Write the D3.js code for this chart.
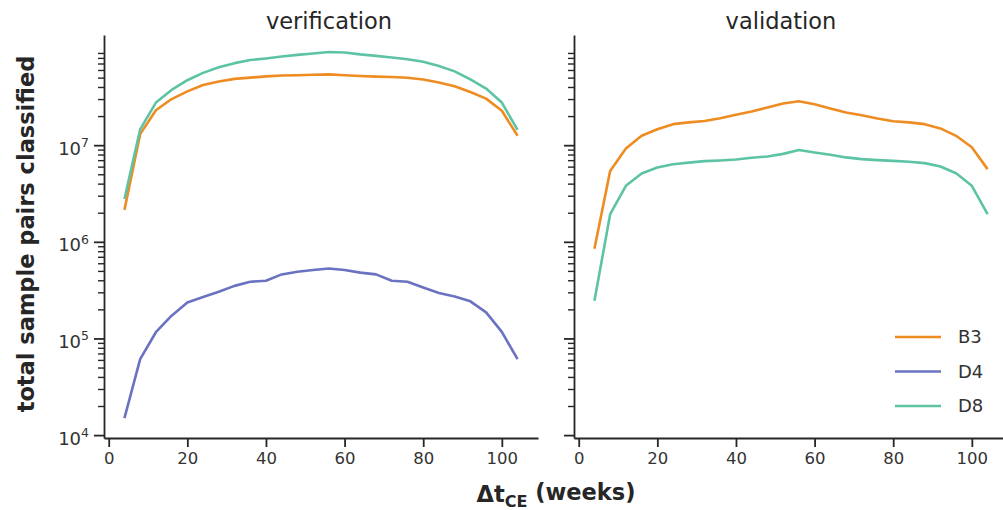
<!DOCTYPE html>
<html>
<head>
<meta charset="utf-8">
<script src="https://cdn.jsdelivr.net/npm/d3@7"></script>
<style>
body { margin: 0; background: #fff; }
text { font-family: 'DejaVu Sans', sans-serif; fill: #262626; }
</style>
</head>
<body>
<svg width="1003" height="510"></svg>
<script>
var weeks = [4, 8, 12, 16, 20, 24, 28, 32, 36, 40, 44, 48, 52, 56, 60, 64, 68, 72, 76, 80, 84, 88, 92, 96, 100, 104];

// verification panel
var verB3 = [2.14e6, 1.3e7, 2.3e7, 3.0e7, 3.6e7, 4.2e7, 4.55e7, 4.85e7, 5.0e7, 5.15e7, 5.25e7, 5.3e7, 5.35e7,
	5.4e7, 5.3e7, 5.2e7, 5.12e7, 5.08e7, 4.98e7, 4.78e7, 4.45e7, 4.07e7, 3.55e7, 3.03e7, 2.27e7, 1.25e7];
var verD4 = [1.5e4, 6.1e4, 1.16e5, 1.72e5, 2.36e5, 2.69e5, 3.04e5, 3.5e5, 3.86e5, 3.95e5, 4.6e5, 4.9e5, 5.1e5,
	5.3e5, 5.1e5, 4.8e5, 4.6e5, 3.95e5, 3.86e5, 3.37e5, 2.95e5, 2.72e5, 2.42e5, 1.86e5, 1.17e5, 6.1e4];
var verD8 = [2.77e6, 1.46e7, 2.76e7, 3.73e7, 4.7e7, 5.6e7, 6.4e7, 7.06e7, 7.6e7, 7.9e7, 8.26e7, 8.6e7, 8.9e7,
	9.2e7, 9.1e7, 8.7e7, 8.4e7, 8.07e7, 7.76e7, 7.3e7, 6.6e7, 5.8e7, 4.8e7, 3.85e7, 2.76e7, 1.44e7];

// validation panel
var valB3 = [8.5e5, 5.42e6, 9.25e6, 1.25e7, 1.46e7, 1.65e7, 1.72e7, 1.78e7, 1.9e7, 2.06e7, 2.23e7, 2.45e7, 2.7e7,
	2.85e7, 2.65e7, 2.4e7, 2.18e7, 2.04e7, 1.89e7, 1.77e7, 1.72e7, 1.65e7, 1.49e7, 1.25e7, 9.5e6, 5.65e6];
var valD8 = [2.45e5, 1.93e6, 3.8e6, 5.1e6, 5.88e6, 6.35e6, 6.6e6, 6.84e6, 6.94e6, 7.1e6, 7.4e6, 7.64e6, 8.13e6,
	8.9e6, 8.4e6, 7.95e6, 7.47e6, 7.17e6, 7.0e6, 6.88e6, 6.73e6, 6.52e6, 6.02e6, 5.13e6, 3.8e6, 1.93e6];

var seriesNames = ['B3', 'D4', 'D8'];
var panelTitles = ['verification', 'validation'];
var xTicks = [0, 20, 40, 60, 80, 100];
var yExponents = [4, 5, 6, 7];

var color = d3.scaleOrdinal(seriesNames, ['#ee8c22', '#6a72c1', '#5dc3a5']);

var panels = [
	{title: panelTitles[0], titleX: 329, left: 104, series: [['B3', verB3], ['D4', verD4], ['D8', verD8]]},
	{title: panelTitles[1], titleX: 781, left: 574, series: [['B3', valB3], ['D8', valD8]]}
];

var svg = d3.select('svg'),
	plotTop = 35,
	plotBottom = 438,
	panelWidth = 434;

var y = d3.scaleLog()
	.domain([Math.pow(10, 3.97), Math.pow(10, 8.14)])
	.range([plotBottom, plotTop]);

// minor log ticks 2..9 x 10^k
var minorTicks = [];
yExponents.forEach(function(e){
	for (var m = 2; m <= 9; m++) minorTicks.push(m * Math.pow(10, e));
});

panels.forEach(function(p, i){
	var x = d3.scaleLinear()
		.domain([-1.2, 109.2])
		.range([p.left, p.left + panelWidth]);

	var line = d3.line()
		.x(function(d){ return x(d[0]); })
		.y(function(d){ return y(d[1]); });

	var g = svg.append('g');

	g.selectAll('path.series')
		.data(p.series)
		.enter().append('path')
			.attr('class', 'series')
			.attr('fill', 'none')
			.attr('stroke', function(d){ return color(d[0]); })
			.attr('stroke-width', 2.6)
			.attr('stroke-linejoin', 'round')
			.attr('d', function(d){
				return line(weeks.map(function(w, j){ return [w, d[1][j]]; }));
			});

	// x axis
	var xa = g.append('g')
		.attr('transform', 'translate(0,' + plotBottom + ')')
		.call(d3.axisBottom(x).tickValues(xTicks).tickSize(9).tickPadding(5).tickSizeOuter(0));

	// y axis, minor then major
	var ym = g.append('g')
		.attr('transform', 'translate(' + p.left + ',0)')
		.call(d3.axisLeft(y).tickValues(minorTicks).tickSize(6).tickFormat('').tickSizeOuter(0));
	ym.select('.domain').remove();

	var ya = g.append('g')
		.attr('transform', 'translate(' + p.left + ',0)')
		.call(d3.axisLeft(y).tickValues(yExponents.map(function(e){ return Math.pow(10, e); }))
			.tickSize(10).tickPadding(5).tickSizeOuter(0).tickFormat(''));

	[xa, ym, ya].forEach(function(a){
		a.selectAll('path, line').attr('stroke', '#262626').attr('stroke-width', 1.8);
		a.selectAll('text').style('font-size', '16.5px').style('fill', '#333');
	});
	ym.selectAll('line').attr('stroke-width', 1.4);

	if (i === 0) {
		ya.selectAll('.tick text')
			.attr('dy', '0.5em')
			.style('font-size', '18px')
			.each(function(d){
				var t = d3.select(this);
				t.append('tspan').text('10');
				t.append('tspan')
					.attr('dy', '-0.6em')
					.style('font-size', '12.5px')
					.text(Math.round(Math.log10(d)));
			});
	}

	svg.append('text')
		.attr('x', p.titleX)
		.attr('y', 29)
		.attr('text-anchor', 'middle')
		.style('font-size', '22.5px')
		.text(p.title);
});

// legend in validation panel
var legend = svg.append('g').attr('transform', 'translate(895,337)');
seriesNames.forEach(function(s, i){
	legend.append('line')
		.attr('x1', 0).attr('x2', 46)
		.attr('y1', i * 34.5).attr('y2', i * 34.5)
		.attr('stroke', color(s))
		.attr('stroke-width', 2.6);
	legend.append('text')
		.attr('x', 63)
		.attr('y', i * 34.5)
		.attr('dy', '0.36em')
		.style('font-size', '18px')
		.style('fill', '#333')
		.text(s);
});

// axis titles
svg.append('text')
	.attr('transform', 'translate(34,234) rotate(-90)')
	.attr('text-anchor', 'middle')
	.style('font-size', '22.5px')
	.style('font-weight', 'bold')
	.text('total sample pairs classified');

var xl = svg.append('text')
	.attr('x', 556)
	.attr('y', 502)
	.attr('text-anchor', 'middle')
	.style('font-size', '22.5px')
	.style('font-weight', 'bold');
xl.append('tspan').text('\u0394t');
xl.append('tspan').attr('dy', '0.3em').style('font-size', '16px').text('CE');
xl.append('tspan').attr('dy', '-0.3em').text(' (weeks)');
</script>
</body>
</html>
